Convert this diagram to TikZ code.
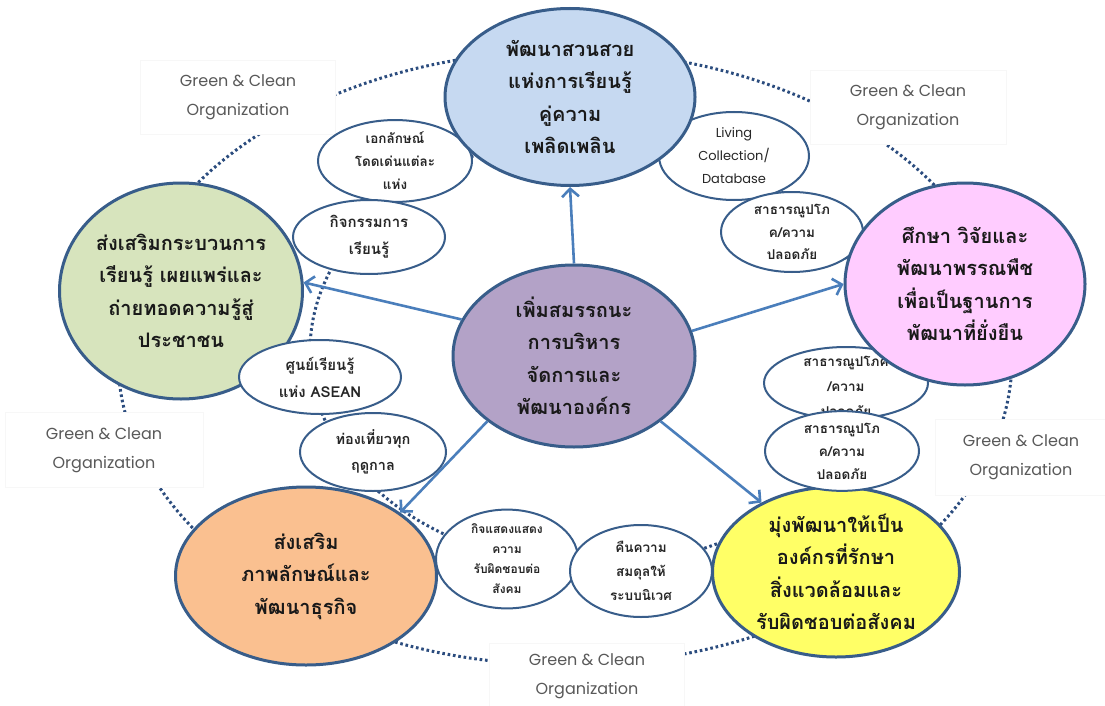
\documentclass[tikz,border=0pt]{standalone}
\usepackage{fontspec}
\usetikzlibrary{shapes.geometric,arrows.meta}
\newfontfamily\thaifont[Script=Thai]{Loma}
\newfontfamily\gcfont{Poppins}
\definecolor{bordc}{HTML}{385D8A}
\definecolor{ringc}{HTML}{2B4C7E}
\definecolor{arrc}{HTML}{4A7EBB}
\definecolor{gctext}{HTML}{595959}
\definecolor{cblue}{HTML}{C6D9F1}
\definecolor{cgreen}{HTML}{D7E4BD}
\definecolor{cpink}{HTML}{FFCCFF}
\definecolor{cpurple}{HTML}{B3A2C7}
\definecolor{corange}{HTML}{FAC090}
\definecolor{cyellow}{HTML}{FFFF66}
\tikzset{
  ring/.style={draw=ringc,line width=3pt,dash pattern=on 2.6pt off 2.8pt},
  gcbox/.style={rectangle,fill=white,draw=black!3,line width=0.6pt,inner sep=0pt,
    align=center,text=gctext,font=\gcfont\fontsize{16}{29}\selectfont},
  mainell/.style={ellipse,draw=bordc,line width=3pt,inner sep=0pt,align=center,
    text=black!90,font=\thaifont\bfseries\fontsize{20}{32.5}\selectfont},
  smallell/.style={ellipse,draw=bordc,line width=2pt,fill=white,inner sep=0pt,align=center,
    text=black!85,font=\thaifont\bfseries\fontsize{13.5}{23}\selectfont},
  arr/.style={draw=arrc,line width=2.6pt,-{Straight Barb[length=8pt,width=17pt,line width=2.6pt]}}
}
\begin{document}
\begin{tikzpicture}[x=1pt,y=-1pt]
\path[use as bounding box] (0,0) rectangle (1105,706);
\fill[white] (0,0) rectangle (1105,706);

% dotted rings
\draw[ring] (565,358) ellipse [x radius=447, y radius=307];
\draw[ring] (592,351) ellipse [x radius=282, y radius=215];

% Green & Clean labels
\node[gcbox,minimum width=195pt,minimum height=74pt] (g1) at (238,97) {Green \& Clean\\Organization};
\node[gcbox,minimum width=196pt,minimum height=74pt] (g2) at (908,107) {Green \& Clean\\Organization};
\node[gcbox,minimum width=198pt,minimum height=75pt] (g3) at (104,450) {Green \& Clean\\Organization};
\node[gcbox,minimum width=172pt,minimum height=76pt] (g4) at (1021,457) {Green \& Clean\\Organization};
\node[gcbox,minimum width=195pt,minimum height=66pt] (g5) at (587,676) {Green \& Clean\\Organization};

% small ellipses behind main ones
\node[smallell,minimum width=154pt,minimum height=78pt] (e1) at (395,161) {เอกลักษณ์\\โดดเด่นแต่ละ\\แห่ง};
\node[smallell,minimum width=150pt,minimum height=88pt,font=\gcfont\fontsize{13}{23}\selectfont] (e3) at (734,156) {Living\\Collection/\\Database};
\node[smallell,minimum width=142pt,minimum height=80pt,font=\thaifont\bfseries\fontsize{13.5}{22.5}\selectfont] (e4) at (792,232) {สาธารณูปโภ\\ค/ความ\\ปลอดภัย};
\node[smallell,minimum width=164pt,minimum height=72pt] (r1) at (846,383) {};
\node[align=center,text=black!85,font=\thaifont\bfseries\fontsize{13.5}{25}\selectfont] (r1t) at (846,386) {สาธารณูปโภค\\/ความ\\ปลอดภัย};

% main ellipses
\node[mainell,fill=cblue,minimum width=250pt,minimum height=177pt] (top) at (570,97) {พัฒนาสวนสวย\\แห่งการเรียนรู้\\คู่ความ\\เพลิดเพลิน};
\node[mainell,fill=cgreen,minimum width=243pt,minimum height=216pt] (green) at (181,291) {ส่งเสริมกระบวนการ\\เรียนรู้ เผยแพร่และ\\ถ่ายทอดความรู้สู่\\ประชาชน};
\node[mainell,fill=cpink,minimum width=240pt,minimum height=202pt] (pink) at (965,284) {ศึกษา วิจัยและ\\พัฒนาพรรณพืช\\เพื่อเป็นฐานการ\\พัฒนาที่ยั่งยืน};
\node[mainell,fill=corange,minimum width=261pt,minimum height=178pt] (orange) at (306,576) {ส่งเสริม\\ภาพลักษณ์และ\\พัฒนาธุรกิจ};
\node[mainell,fill=cyellow,minimum width=247pt,minimum height=170pt] (yellow) at (836,572) {มุ่งพัฒนาให้เป็น\\องค์กรที่รักษา\\สิ่งแวดล้อมและ\\รับผิดชอบต่อสังคม};
\node[mainell,fill=cpurple,minimum width=242pt,minimum height=182pt] (center) at (574,356) {เพิ่มสมรรถนะ\\การบริหาร\\จัดการและ\\พัฒนาองค์กร};

% small ellipses in front
\node[smallell,minimum width=152pt,minimum height=74pt,font=\thaifont\bfseries\fontsize{15}{27}\selectfont] (e2) at (369,237) {กิจกรรมการ\\เรียนรู้};
\node[smallell,minimum width=162pt,minimum height=74pt,font=\thaifont\bfseries\fontsize{15}{27}\selectfont] (e5) at (320,377) {ศูนย์เรียนรู้\\แห่ง ASEAN};
\node[smallell,minimum width=146pt,minimum height=78pt,font=\thaifont\bfseries\fontsize{14.5}{26}\selectfont] (e6) at (373,452) {ท่องเที่ยวทุก\\ฤดูกาล};
\node[smallell,minimum width=142pt,minimum height=82pt,font=\thaifont\bfseries\fontsize{12}{20}\selectfont] (e9) at (507,559) {กิจแสดงแสดง\\ความ\\รับผิดชอบต่อ\\สังคม};
\node[smallell,minimum width=142pt,minimum height=92pt,font=\thaifont\bfseries\fontsize{13.5}{24}\selectfont] (e10) at (641,571) {คืนความ\\สมดุลให้\\ระบบนิเวศ};
\node[smallell,minimum width=154pt,minimum height=74pt] (r2) at (842,451) {สาธารณูปโภ\\ค/ความ\\ปลอดภัย};

% arrows
\draw[arr] (center.90) -- (top.270);
\draw[arr] (center.162) -- (green.4);
\draw[arr] (center.12) -- (pink.180);
\draw[arr] (center.217) -- (orange.34);
\draw[arr] (center.323) -- (yellow.137);
\end{tikzpicture}
\end{document}
